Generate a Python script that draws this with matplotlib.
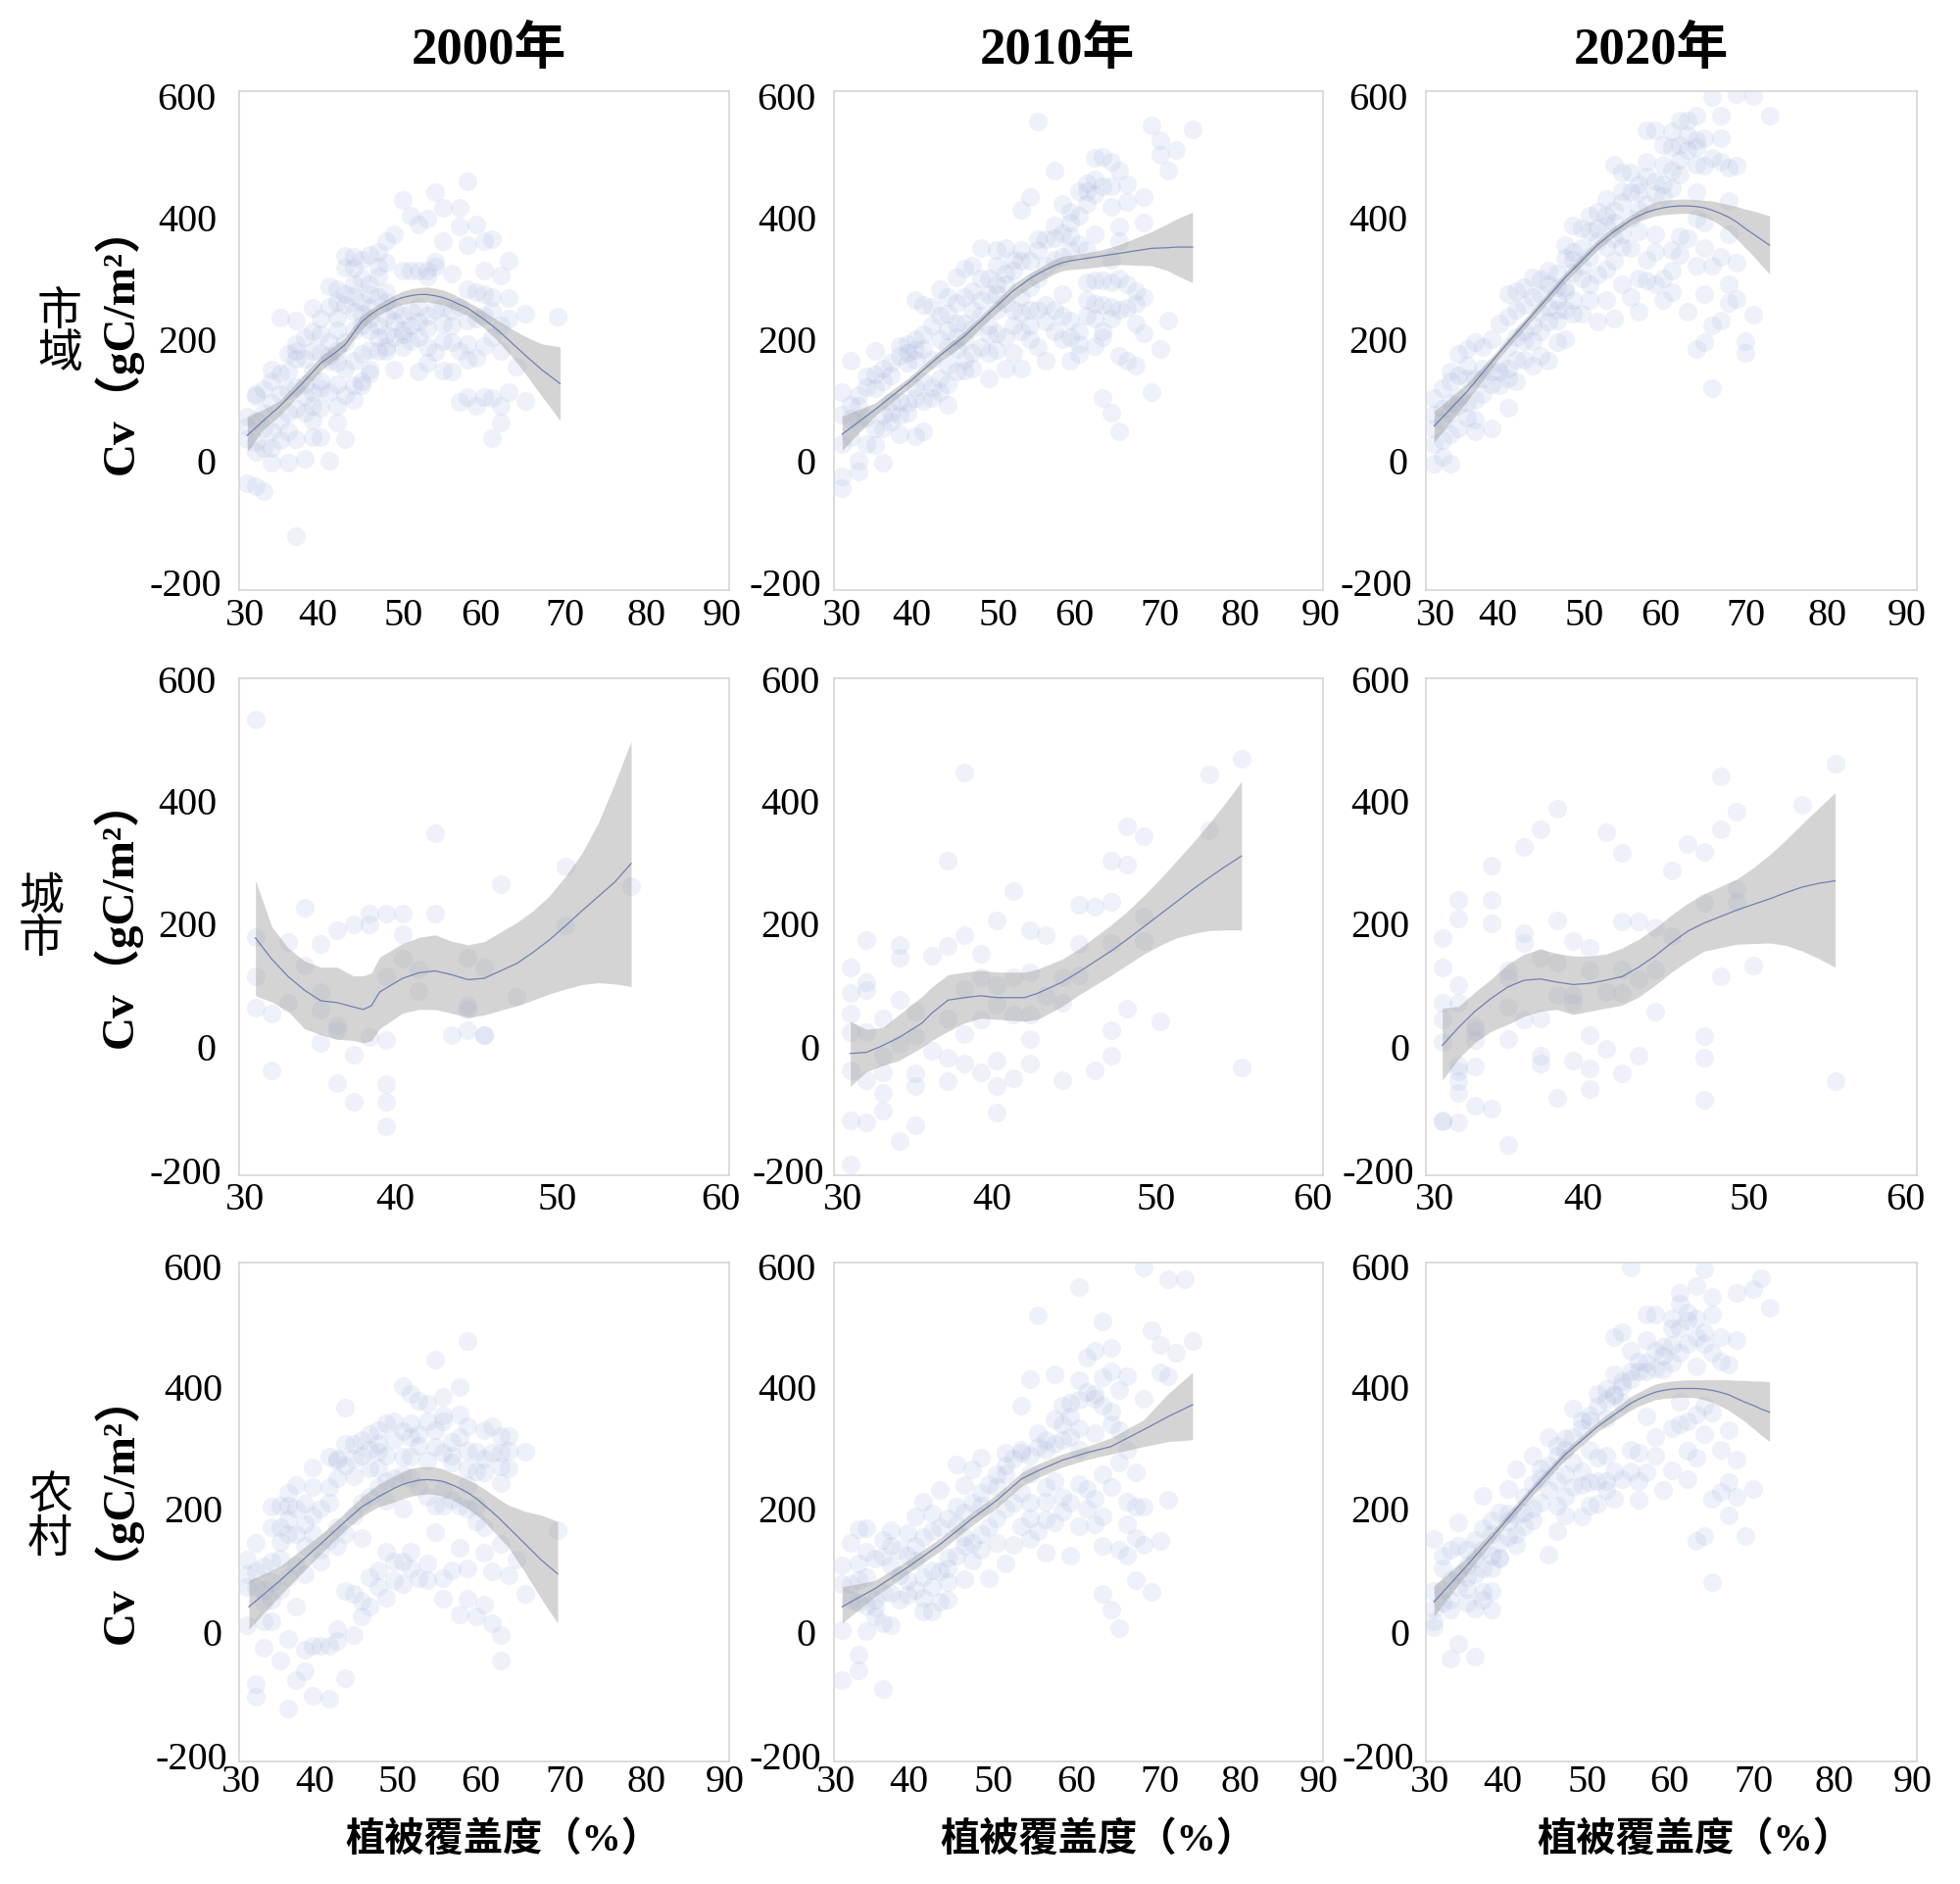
import matplotlib
matplotlib.use('Agg')
import matplotlib.pyplot as plt
from matplotlib.transforms import ScaledTranslation

plt.rcParams['axes.unicode_minus'] = False

W, H = 2000, 1922
SERIF = ['Liberation Serif', 'Noto Sans CJK SC']

years = ['2000年', '2010年', '2020年']
regions = ['市\n域', '城\n市', '农\n村']
xlabel_text = '植被覆盖度（%）'
ylabel_text = 'Cv（gC/m²）'
yticks = [-200, 0, 200, 400, 600]
xticks_wide = [30, 40, 50, 60, 70, 80, 90]
xticks_narrow = [30, 40, 50, 60]

# scatter points (vegetation cover, Cv)
urban_2000 = [(58,456),(54,438),(50,426),(55,413),(57,413),(51,401),(53,396),(52,386),(57,383),(59,387),(55,360),(61,363),(60,360),(58,353),(49,371),(48,360),(47,342),(46,338),(43,336),(43,317),(44,317),(63,328),(54,326),(60,313),(62,305),(50,313),(51,313),(52,313),(53,313),(54,318),(56,307),(53,303),(47,303),(46,290),(41,287),(42,283),(58,283),(59,278),(60,274),(63,269),(61,270),(65,244),(69,238),(39,253),(35,237),(37,232),(43,257),(44,247),(42,237),(45,244),(46,253),(40,210),(39,184),(36,179),(37,171),(50,217),(51,224),(52,230),(50,210),(53,220),(55,200),(56,197),(57,184),(60,192),(62,184),(48,184),(47,184),(48,190),(53,164),(52,151),(55,152),(56,151),(49,154),(46,154),(46,148),(45,134),(44,128),(45,128),(64,158),(34,154),(35,148),(34,134),(32,115),(32,111),(33,122),(57,101),(58,110),(59,95),(61,108),(60,110),(62,95),(63,118),(65,103),(62,68),(61,44),(42,95),(43,42),(42,68),(40,45),(39,72),(37,42),(39,45),(38,11),(41,7),(36,4),(34,5),(32,22),(33,28),(34,28),(31,62),(31,42),(31,78),(32,38),(31,-28),(32,-33),(33,-41),(37,-114),(37,91),(36,85),(35,72),(39,118),(38,111),(40,124),(40,134),(39,151),(38,171),(37,184),(36,151),(41,167),(42,184),(43,197),(44,217),(45,224),(46,217),(42,217),
              (47,270),(48,262),(49,250),(45,262),(44,272),(46,275),(48,278),(43,275),(44,290),(45,300),(47,318),(48,325),(45,330),(44,335),(50,240),(51,248),(52,255),(53,240),(54,250),(55,255),(56,248),(57,255),(58,232),(59,236),(60,240),(61,248),(62,225),(63,235),(51,200),(52,205),(53,190),(54,182),(55,228),(56,225),(41,198),(40,180),(41,175),(42,165),(43,155),(44,168),(45,178),(46,185),(47,205),(48,210),(49,205),(38,130),(37,125),(36,120),(35,115),(34,100),(33,85),(32,72),(33,60),(34,55),(35,40),(36,55),(38,85),(39,95),(40,92),(41,118),(42,130),(43,112),(44,105),(37,195),(38,205),(39,215),(40,235),(41,255),(42,262),(50,190),(49,230),(48,238),(47,225),(46,235),(58,195),(59,172),(58,170),(61,205)]
urban_2010 = [(55,551),(69,545),(74,538),(70,521),(72,506),(70,498),(71,472),(62,493),(63,495),(64,487),(65,472),(57,472),(61,453),(62,459),(63,448),(66,451),(61,440),(62,435),(64,448),(68,431),(66,422),(54,430),(53,410),(58,419),(64,414),(59,406),(60,401),(68,390),(65,383),(57,385),(58,372),(59,367),(56,362),(55,362),(57,364),(62,370),(51,349),(48,349),(50,346),(55,346),(54,328),(53,328),(52,312),(51,307),(47,320),(46,315),(45,301),(43,283),(50,291),(49,275),(50,275),(48,265),(40,265),(41,257),(42,254),(61,293),(62,296),(63,296),(64,293),(61,265),(68,270),(62,259),(63,257),(64,254),(65,249),(66,252),(67,259),(64,236),(67,228),(71,233),(68,212),(63,215),(63,205),(62,191),(70,187),(65,175),(66,168),(67,160),(69,118),(63,108),(64,84),(65,55),(58,275),(55,249),(54,249),(56,257),(59,233),(57,215),(60,215),(58,202),(55,189),(54,202),(53,215),(60,178),(59,168),(56,168),(53,155),(51,155),(49,139),(52,181),(49,181),(50,212),(47,155),(46,152),(44,160),(44,97),(43,118),(42,108),(41,103),(40,108),(39,84),(38,50),(37,71),(41,55),(40,47),(35,32),(34,34),(33,8),(36,5),(33,-10),(31,-36),(31,-18),(32,168),(35,184),(34,142),(38,191),(39,181),(40,202),(41,186),(42,170),(37,144),(36,134),(35,123),(33,113),(32,97),(31,118),(31,81),(39,165),(44,244),(45,228),(44,217),(47,249),(46,228),(43,202),(45,186),(40,170),(38,102),(37,102),(34,76),(36,81),(31,34),(32,45),
              (44,190),(45,205),(46,200),(47,220),(48,240),(49,225),(50,250),(51,260),(52,250),(53,270),(54,285),(55,300),(56,320),(57,330),(58,335),(59,345),(60,355),(61,345),(49,300),(50,320),(51,290),(52,330),(53,345),(47,280),(48,300),(46,270),(45,260),(44,270),(43,240),(42,225),(41,210),(40,185),(39,195),(38,175),(37,165),(36,155),(35,145),(34,125),(33,95),(32,75),(33,70),(35,60),(36,60),(37,85),(38,80),(39,100),(40,125),(41,135),(42,125),(43,140),(44,130),(45,150),(46,170),(47,180),(48,190),(49,210),(50,185),(51,205),(52,225),(53,245),(54,225),(56,230),(57,250),(58,240),(59,205),(60,195),(61,240),(62,235),(65,300),(66,290),(67,280),(64,330),(65,360),(60,440),(59,390),(61,420)]
urban_2020 = [(65,590),(68,595),(70,592),(72,561),(66,561),(63,561),(61,553),(62,553),(57,537),(58,537),(60,535),(66,524),(64,524),(63,521),(61,514),(59,514),(63,482),(65,493),(66,487),(67,477),(68,480),(61,466),(59,482),(57,487),(53,482),(54,469),(60,472),(56,451),(57,464),(55,438),(56,438),(58,435),(63,438),(59,432),(52,427),(54,422),(53,409),(67,424),(51,406),(48,385),(51,380),(52,385),(53,390),(50,375),(47,354),(48,343),(49,349),(47,333),(63,396),(64,390),(61,367),(67,370),(58,370),(58,343),(64,349),(55,349),(61,338),(66,335),(63,320),(65,320),(68,325),(60,312),(57,296),(54,291),(52,314),(53,328),(51,306),(50,291),(67,291),(60,278),(64,275),(68,267),(67,260),(59,265),(55,270),(52,265),(56,246),(62,246),(70,241),(53,236),(51,231),(66,233),(65,225),(48,244),(47,249),(46,233),(64,197),(63,186),(69,199),(69,181),(65,123),(45,312),(44,299),(46,307),(43,301),(42,286),(41,280),(40,275),(41,249),(42,257),(43,270),(44,275),(45,291),(40,238),(39,228),(38,202),(37,189),(36,197),(35,186),(34,178),(33,150),(34,144),(35,139),(32,123),(33,134),(31,108),(47,202),(46,197),(45,168),(44,176),(43,160),(42,170),(41,134),(40,155),(39,128),(37,115),(40,92),(36,73),(35,76),(38,60),(33,50),(32,71),(31,81),(33,3),(31,3),(32,13),(31,34),(48,265),(46,265),(49,244),
              (33,100),(34,110),(35,160),(36,140),(37,155),(38,150),(39,165),(40,190),(41,205),(42,215),(43,225),(44,245),(45,255),(46,285),(47,285),(48,310),(49,320),(50,335),(51,360),(52,350),(53,365),(54,370),(55,395),(56,410),(57,420),(58,455),(59,450),(60,445),(61,490),(62,505),(63,510),(64,480),(62,530),(60,510),(50,400),(49,380),(52,400),(54,440),(55,470),(48,330),(47,280),(46,250),(45,230),(44,215),(43,200),(42,200),(41,170),(40,140),(39,150),(38,130),(37,140),(36,105),(35,100),(34,95),(33,85),(32,90),(31,60),(32,40),(34,60),(36,55),(50,265),(49,300),(56,300),(58,290),(60,345),(62,365),(57,330),(59,300),(56,375),(54,350)]
city_2000 = [(31,533),(42,351),(34,230),(46,268),(50,297),(54,266),(50,202),(31,183),(33,176),(35,173),(36,194),(37,204),(38,222),(38,204),(39,221),(40,221),(40,188),(42,221),(34,138),(31,121),(40,148),(39,121),(41,132),(44,151),(45,135),(47,87),(41,96),(44,73),(44,67),(35,95),(33,77),(35,67),(31,70),(32,61),(36,42),(36,33),(38,23),(39,17),(35,13),(37,-6),(43,26),(44,33),(45,26),(45,26),(32,-31),(36,-51),(37,-82),(39,-54),(39,-82),(39,-121)]
city_2010 = [(38,448),(53,446),(55,471),(53,356),(48,362),(49,346),(37,306),(47,307),(48,300),(41,258),(45,235),(46,232),(47,240),(49,216),(40,211),(42,195),(43,186),(38,187),(37,169),(36,153),(39,156),(32,178),(34,171),(34,151),(31,135),(32,111),(31,94),(34,82),(32,98),(45,172),(47,174),(49,177),(39,119),(41,119),(42,127),(44,119),(38,100),(40,106),(45,122),(35,64),(33,53),(31,61),(37,53),(39,51),(40,74),(41,59),(42,59),(43,88),(44,77),(48,69),(50,48),(42,20),(38,27),(31,30),(32,30),(47,34),(35,24),(34,11),(33,-7),(37,-10),(36,1),(38,-20),(40,-15),(42,-20),(47,-7),(46,-31),(55,-26),(31,-31),(32,-47),(33,-34),(35,-36),(35,-57),(37,-49),(39,-34),(41,-43),(40,-57),(44,-47),(33,-68),(33,-96),(31,-111),(32,-115),(35,-119),(40,-99),(34,-144),(31,-183)]
city_2020 = [(55,463),(48,442),(53,397),(38,390),(49,386),(37,357),(41,352),(48,357),(36,328),(42,319),(46,334),(47,321),(34,298),(45,290),(49,261),(32,243),(34,243),(47,238),(49,240),(32,214),(34,205),(38,211),(42,209),(43,209),(44,200),(31,182),(36,190),(36,174),(39,177),(40,166),(45,185),(37,151),(38,143),(31,135),(35,119),(40,130),(42,132),(44,132),(50,137),(48,121),(32,106),(35,130),(43,116),(41,95),(42,94),(38,90),(39,90),(39,77),(31,77),(32,77),(31,51),(35,72),(36,51),(37,53),(44,64),(33,40),(33,32),(31,14),(33,17),(40,25),(47,24),(35,20),(41,3),(43,-7),(47,-10),(37,-7),(37,-20),(39,-15),(40,-28),(42,-36),(32,-23),(33,-25),(32,-33),(32,-49),(32,-68),(40,-61),(38,-75),(33,-88),(34,-92),(47,-78),(55,-49),(31,-112),(31,-114),(32,-115),(35,-151)]
rural_2000 = [(58,475),(54,444),(50,402),(57,400),(51,389),(43,368),(53,373),(52,378),(55,384),(55,355),(55,345),(57,356),(49,345),(48,342),(51,342),(47,332),(46,325),(45,315),(43,309),(44,309),(42,286),(42,283),(41,289),(39,271),(58,338),(60,332),(61,338),(62,322),(63,322),(65,296),(63,299),(56,312),(58,299),(59,296),(54,332),(52,306),(50,289),(51,289),(53,283),(47,296),(46,270),(47,270),(56,280),(62,273),(60,263),(62,247),(58,244),(44,257),(41,240),(37,244),(36,231),(39,240),(34,208),(35,211),(38,214),(39,195),(36,188),(37,165),(35,152),(32,151),(38,146),(45,158),(42,146),(40,139),(54,167),(69,171),(59,185),(60,175),(50,205),(55,211),(48,218),(57,143),(60,134),(62,149),(48,136),(51,136),(53,118),(50,120),(47,107),(58,110),(56,107),(55,94),(52,94),(49,90),(64,123),(63,99),(65,68),(48,62),(43,73),(44,68),(45,58),(46,48),(45,32),(55,61),(58,61),(60,51),(57,36),(59,32),(61,21),(62,2),(62,-38),(31,123),(31,100),(33,113),(35,126),(34,87),(37,48),(33,25),(31,19),(34,25),(36,-3),(42,12),(44,2),(42,-7),(40,-14),(39,-14),(38,-21),(41,-14),(33,-17),(35,-38),(38,-56),(37,-69),(43,-66),(32,-76),(32,-96),(39,-94),(41,-99),(36,-115),
              (32,80),(33,75),(34,120),(35,175),(36,210),(37,205),(38,180),(39,165),(40,205),(41,215),(42,255),(43,275),(44,285),(45,290),(46,300),(47,310),(48,290),(49,315),(50,330),(51,320),(52,325),(53,345),(54,305),(55,295),(56,290),(57,320),(58,270),(59,265),(60,285),(61,295),(62,295),(63,270),(49,255),(50,260),(51,255),(52,240),(53,225),(54,210),(55,235),(56,220),(57,210),(58,205),(59,210),(48,250),(47,240),(46,225),(45,215),(44,195),(43,165),(42,175),(41,155),(40,120),(38,100),(37,115),(36,95),(35,75),(34,60),(33,55),(46,95),(47,80),(49,120),(51,110),(53,90),(61,105),(36,165),(34,175),(50,85),(31,80),(32,105)]
rural_2010 = [(68,592),(71,573),(73,573),(60,561),(55,515),(63,506),(69,492),(74,474),(70,468),(72,455),(64,463),(62,459),(61,447),(70,424),(71,418),(54,413),(57,421),(64,426),(66,418),(63,416),(60,411),(65,395),(61,392),(62,382),(68,382),(64,361),(53,371),(58,371),(59,353),(57,348),(58,340),(65,332),(62,327),(60,335),(55,327),(56,316),(53,295),(51,295),(48,287),(45,277),(47,269),(54,261),(51,261),(67,264),(46,243),(43,235),(50,240),(61,237),(64,240),(62,222),(71,219),(41,216),(45,209),(48,211),(54,215),(56,217),(66,217),(67,209),(68,209),(42,198),(40,193),(63,193),(58,201),(56,188),(57,183),(53,177),(60,177),(66,180),(34,174),(33,173),(37,171),(39,166),(32,151),(54,156),(52,148),(50,151),(70,153),(67,159),(63,146),(65,140),(68,148),(56,135),(59,130),(66,130),(47,122),(51,117),(49,94),(34,137),(36,129),(33,117),(37,114),(31,114),(44,127),(42,107),(40,122),(38,98),(67,90),(69,72),(63,69),(64,43),(65,14),(32,85),(41,41),(43,56),(41,62),(39,67),(35,46),(36,22),(37,19),(34,9),(31,10),(35,33),(33,-28),(33,-54),(31,-69),(36,-83),(44,88),(46,93),
              (33,90),(34,95),(35,125),(36,155),(37,145),(38,140),(39,130),(40,145),(41,160),(42,170),(43,175),(44,190),(45,180),(46,200),(47,215),(48,230),(49,245),(50,260),(51,275),(52,285),(53,300),(54,290),(55,305),(56,300),(57,310),(58,315),(59,320),(60,300),(31,85),(32,60),(33,55),(34,50),(35,60),(36,70),(37,70),(38,60),(39,90),(40,75),(41,95),(42,80),(43,105),(44,110),(45,130),(46,145),(47,150),(48,165),(49,175),(50,190),(51,205),(52,215),(53,230),(54,190),(55,170),(56,240),(57,250),(58,225),(59,215),(60,245),(61,205),(62,180),(63,260),(65,280),(66,300),(64,340),(59,375),(60,380),(62,390),(63,370),(46,160),(48,140),(44,60),(42,40)]
rural_2020 = [(55,592),(64,589),(71,575),(63,563),(61,552),(70,558),(68,552),(65,545),(61,534),(72,528),(57,516),(58,516),(65,516),(62,508),(61,495),(60,495),(54,489),(53,481),(64,489),(66,481),(68,476),(57,476),(60,468),(58,458),(55,458),(65,455),(66,442),(67,437),(56,442),(63,434),(57,426),(53,421),(55,413),(59,429),(52,397),(51,389),(54,402),(53,387),(48,366),(49,347),(50,347),(61,377),(64,371),(63,356),(57,353),(61,340),(67,332),(58,321),(45,321),(47,319),(46,306),(66,300),(68,284),(62,298),(63,287),(52,290),(51,287),(43,290),(41,268),(44,270),(60,267),(57,263),(62,253),(54,253),(55,300),(40,237),(37,226),(59,236),(51,250),(50,248),(49,243),(48,240),(67,248),(70,237),(66,232),(65,221),(68,224),(56,220),(53,222),(51,214),(47,224),(46,211),(67,195),(49,193),(39,200),(40,198),(43,187),(42,177),(46,169),(37,174),(34,183),(38,187),(64,161),(63,153),(69,162),(41,148),(45,131),(31,156),(32,130),(33,140),(34,145),(35,140),(36,125),(32,109),(39,127),(38,110),(65,88),(38,74),(37,72),(35,77),(36,45),(38,43),(33,43),(31,73),(31,15),(31,25),(34,-11),(33,-35),(36,-32),
              (33,90),(34,100),(35,115),(36,155),(37,140),(38,165),(39,150),(40,185),(41,195),(42,225),(43,245),(44,255),(45,275),(46,290),(47,300),(48,320),(49,335),(50,355),(51,370),(52,380),(53,390),(54,410),(55,425),(56,425),(57,440),(58,430),(59,450),(60,440),(61,455),(62,470),(63,480),(64,470),(62,520),(63,510),(60,510),(59,465),(54,375),(52,350),(50,300),(48,280),(47,260),(46,250),(45,235),(44,215),(43,205),(42,200),(41,165),(40,160),(39,125),(38,130),(37,110),(36,100),(35,95),(34,80),(33,60),(32,75),(31,45),(32,55),(35,55),(37,60),(49,265),(52,250),(53,265),(55,265),(56,295),(58,290),(60,335),(62,345),(65,360),(64,325),(56,250),(50,210),(52,235),(47,195)]

# fitted curve and its band
urban_2000_cx = [31,33,35,37.7,40,42,43,44,45,46,47,48,49,50,51,52,53,54,55,56,57,58,59,60,61,62,63,64,65,67,69.3]
urban_2000_cy = [48,72,95,131,164,183,194,212,230,241,250,257,264,269,272,274,274,272,269,264,258,252,243,234,224,213,201,189,177,154,131]
urban_2000_lo = [22,58,80,118,152,172,183,201,218,230,240,247,253,258,261,262,262,260,257,252,246,240,230,220,208,195,180,165,148,112,72]
urban_2000_hi = [78,90,104,142,175,195,205,223,240,250,258,266,273,279,283,285,286,284,281,276,269,262,255,247,238,230,222,214,207,195,190]
urban_2010_cx = [31,35,39,43,46,49,52,54,55,56,57,58,59,60,61,63,65,69,71,72,74]
urban_2010_cy = [50,89,131,176,207,244,280,299,307,314,320,325,328,330,332,336,340,348,349,350,350]
urban_2010_lo = [24,79,121,166,194,233,267,285,293,300,307,312,314,315,316,319,322,320,312,305,293]
urban_2010_hi = [79,100,139,184,215,252,291,308,315,323,330,335,337,339,341,346,354,375,388,395,406]
urban_2020_cx = [31,35,39,43,47,51,53,55,56,57,58,59,60,61,62,63,64,65,66,67,68,69,70,71,72]
urban_2020_cy = [63,118,181,241,301,354,375,393,400,406,410,413,415,416,416,415,413,409,404,398,390,380,371,362,353]
urban_2020_lo = [37,102,173,233,293,346,367,385,391,396,400,402,403,404,404,402,398,393,385,376,363,349,336,321,307]
urban_2020_hi = [87,131,188,249,309,362,383,401,409,416,422,425,426,427,427,426,425,424,421,418,415,411,408,404,400]
city_2000_cx = [31,32,33,34,35,36,37,37.6,38.1,38.6,40,41,42,43,44,45,47,48,49,50,51,52,53,54]
city_2000_cy = [182,148,120,98,81,78,71,67,73,95,117,126,129,123,115,117,141,159,179,202,226,249,272,302]
city_2000_lo = [89,79,64,36,26,19,17,13,17,36,61,67,67,61,54,58,73,82,92,100,107,110,108,104]
city_2000_hi = [275,200,166,145,135,135,121,121,126,151,173,183,187,177,171,176,207,226,250,282,319,368,431,499]
city_2010_cx = [31,32,33,34,35.4,36,37,38,39,40,41.7,42.5,44,45,47,48,49,50,51,52,53,54,55]
city_2010_cy = [-4,-2,9,22,45,61,82,86,89,86,86,93,111,127,161,180,200,220,240,260,279,297,314]
city_2010_lo = [-57,-33,-23,-15,6,17,32,45,53,51,48,51,72,90,122,139,156,170,182,189,194,195,195]
city_2010_hi = [48,35,38,59,88,103,123,127,130,127,127,132,148,164,203,225,250,277,306,335,366,399,434]
city_2020_cx = [31,32,33,34,35,36,37,38,39,40,41,42,43,44,45,46,47,49,50,51,52,53,54,55]
city_2020_cy = [9,38,64,85,103,114,116,111,107,109,114,120,135,153,174,193,206,227,236,245,255,264,270,274]
city_2020_lo = [-47,-12,14,32,43,56,64,67,59,64,69,74,87,106,127,145,161,172,173,174,170,161,149,135]
city_2020_hi = [69,72,95,116,140,156,164,157,153,153,156,166,180,198,219,238,253,277,295,316,340,366,391,416]
rural_2000_cx = [31.2,35,40,43,45,47,49,50,51,52,53,54,55,56,57,58,59,60,61,62,63,64,65,66,67,68,69]
rural_2000_cy = [48,90,149,185,208,224,238,244,248,251,252,251,249,244,238,231,222,211,200,188,175,162,149,136,123,112,101]
rural_2000_lo = [12,66,133,171,193,208,216,221,225,228,229,228,225,220,213,206,196,185,171,157,143,123,103,82,61,41,22]
rural_2000_hi = [90,113,164,199,224,244,258,265,270,272,273,272,269,263,258,252,245,237,228,219,211,206,201,198,195,190,185]
rural_2010_cx = [31,35,39,43,47,50,53,55,58,61,64,68,71,74]
rural_2010_cy = [48,77,111,148,190,219,253,266,283,295,305,332,353,372]
rural_2010_lo = [22,64,101,137,179,207,241,255,272,284,293,305,313,316]
rural_2010_hi = [80,90,122,158,200,229,263,277,293,305,319,348,390,424]
rural_2020_cx = [31,35,39,43,47,51,53,55,56,57,58,59,60,61,62,63,64,65,66,67,68,69,70,71,72]
rural_2020_cy = [56,114,174,235,292,337,356,374,381,387,392,395,397,398,398,398,397,395,392,388,382,376,371,365,360]
rural_2020_lo = [33,101,166,226,283,329,346,363,370,375,380,382,383,384,384,383,380,376,370,363,354,345,334,323,313]
rural_2020_hi = [82,127,182,243,300,345,365,385,392,399,405,408,410,411,412,412,412,412,412,412,411,411,410,410,409]

points = [[urban_2000, urban_2010, urban_2020],
          [city_2000, city_2010, city_2020],
          [rural_2000, rural_2010, rural_2020]]
curves = [[(urban_2000_cx, urban_2000_cy, urban_2000_lo, urban_2000_hi),
           (urban_2010_cx, urban_2010_cy, urban_2010_lo, urban_2010_hi),
           (urban_2020_cx, urban_2020_cy, urban_2020_lo, urban_2020_hi)],
          [(city_2000_cx, city_2000_cy, city_2000_lo, city_2000_hi),
           (city_2010_cx, city_2010_cy, city_2010_lo, city_2010_hi),
           (city_2020_cx, city_2020_cy, city_2020_lo, city_2020_hi)],
          [(rural_2000_cx, rural_2000_cy, rural_2000_lo, rural_2000_hi),
           (rural_2010_cx, rural_2010_cy, rural_2010_lo, rural_2010_hi),
           (rural_2020_cx, rural_2020_cy, rural_2020_lo, rural_2020_hi)]]

# layout in pixels of the 2000x1922 picture
col_edges = [(244, 744), (851, 1350), (1455, 1956)]
row_edges = [(93, 602), (692, 1199), (1288, 1797)]
x_pad = [8, 7, 3]
y_pad = [[23, 18, 19], [23, 15, 17], [17, 18, 17]]
# the tick labels in the source sit a little off their ticks
x_shift = [[[5,-2,1,-3,-1,-1,-6], [6,-3,1,-3,0,-1,-2], [8,-8,-4,-9,-6,-6,-8]],
           [[5,-6,-7,-7], [7,-4,-3,-8], [7,-5,-3,-9]],
           [[2,-5,-4,-3,-1,-1,-3], [2,-5,-3,-2,0,-1,-3], [3,-4,-2,-2,0,-1,-3]]]
y_shift = [[6,4,1,-1,-4], [4,3,3,1,-1], [5,4,3,0,-3]]
y_shift_x = [4, 0, 0, 0, 0]
title_pos = [(499, 51), (1079, 51), (1685, 51)]
xlabel_pos = [(513, 1877), (1120, 1877), (1729, 1877)]
region_pos = [(61, 341), (42, 938), (51, 1550)]
ylabel_pos = [(120, 346), (119, 931), (120, 1539)]

fig = plt.figure(figsize=(W / 100, H / 100), dpi=100, facecolor='white')


def fx(px):
    return px / W


def fy(py):
    return 1 - py / H


for r in range(3):
    for c in range(3):
        l, rt = col_edges[c]
        t, b = row_edges[r]
        ax = fig.add_axes([fx(l), fy(b), (rt - l) / W, (b - t) / H])

        px_, py_ = zip(*points[r][c])
        ax.scatter(px_, py_, s=190, color='#9fb0dc', alpha=0.17, linewidths=0, zorder=2)
        cx, cy, lo, hi = curves[r][c]
        ax.fill_between(cx, lo, hi, color='#a0a0a0', alpha=0.45, linewidth=0, zorder=3)
        ax.plot(cx, cy, color='#6f80b4', lw=0.9, zorder=4)

        xticks = xticks_narrow if r == 1 else xticks_wide
        ax.set_xlim(xticks[0], xticks[-1])
        ax.set_ylim(-200, 600)
        ax.set_xticks(xticks)
        ax.set_yticks(yticks)
        ax.tick_params(axis='both', length=0, labelsize=29)
        ax.tick_params(axis='x', pad=x_pad[r] * 0.72)
        ax.tick_params(axis='y', pad=y_pad[r][c] * 0.72)
        for lab, dx in zip(ax.get_xticklabels(), x_shift[r][c]):
            lab.set_family(SERIF)
            lab.set_transform(lab.get_transform() + ScaledTranslation(dx * 1.2755 / 100, 0, fig.dpi_scale_trans))
        for lab, dy, dx in zip(ax.get_yticklabels(), y_shift[r], y_shift_x):
            lab.set_family(SERIF)
            lab.set_transform(lab.get_transform() + ScaledTranslation(dx * 1.2755 / 100, dy * 1.2755 / 100, fig.dpi_scale_trans))
        for sp in ax.spines.values():
            sp.set_color('#d2d2d2')
            sp.set_linewidth(1.1)

for c in range(3):
    fig.text(fx(title_pos[c][0]), fy(title_pos[c][1]), years[c], family=SERIF, fontsize=38,
             fontweight='bold', ha='center', va='center')
    fig.text(fx(xlabel_pos[c][0]), fy(xlabel_pos[c][1]), xlabel_text, family=SERIF, fontsize=29,
             fontweight='bold', ha='center', va='center')

for r in range(3):
    fig.text(fx(region_pos[r][0]), fy(region_pos[r][1]), regions[r], family=SERIF, fontsize=33,
             fontweight=500, ha='center', va='center', linespacing=1.0)
    fig.text(fx(ylabel_pos[r][0]), fy(ylabel_pos[r][1]), ylabel_text, family=SERIF, fontsize=34,
             fontweight='bold', rotation=90, ha='center', va='center')

fig.savefig('out.png', dpi=100)
